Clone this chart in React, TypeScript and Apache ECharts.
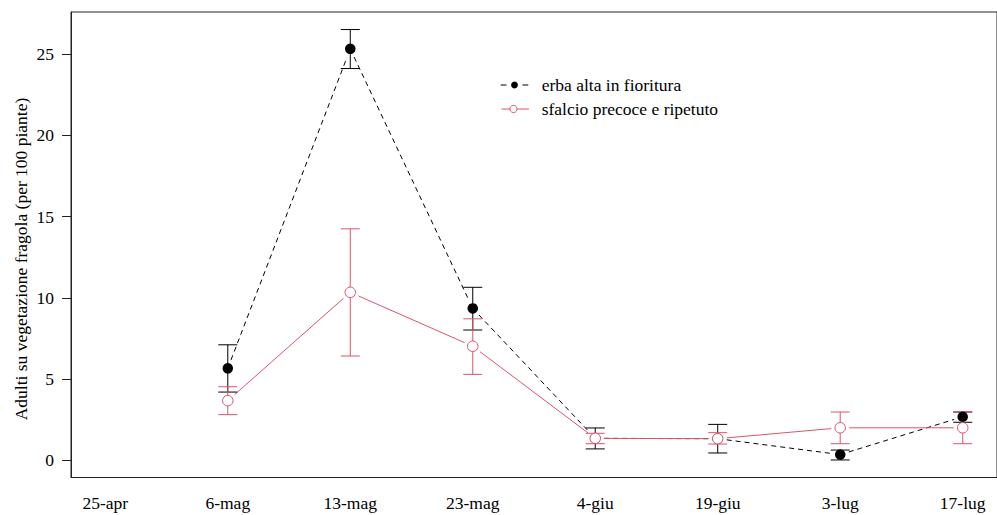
import React, { useEffect, useRef } from "react";
import * as echarts from "echarts";

const categories = ["25-apr", "6-mag", "13-mag", "23-mag", "4-giu", "19-giu", "3-lug", "17-lug"];
const categoryPositions = [1, 2, 3, 4, 5, 6, 7, 8];
const samplePositions = [2, 3, 4, 5, 6, 7, 8];
const altaMean = [5.66, 25.33, 9.35, 1.35, 1.33, 0.35, 2.68];
const altaLow = [4.2, 24.12, 8.02, 0.7, 0.45, 0.02, 2.34];
const altaHigh = [7.11, 26.52, 10.65, 1.99, 2.21, 0.63, 2.97];
const sfalcioMean = [3.67, 10.34, 7.02, 1.35, 1.33, 2.0, 2.0];
const sfalcioLow = [2.81, 6.42, 5.29, 1.02, 1.0, 1.02, 1.02];
const sfalcioHigh = [4.53, 14.25, 8.71, 1.66, 1.7, 2.97, 2.97];
const yTicks = [0, 5, 10, 15, 20, 25];
const seriesNames = ["erba alta in fioritura", "sfalcio precoce e ripetuto"];
const yTitle = "Adulti su vegetazione fragola (per 100 piante)";

const BLACK = "#000000";
const RED = "#DF536B";
const FONT = "Liberation Serif";
const FS = 17.5;

function segments(xs: number[], ys: number[]) {
  const out: number[][] = [];
  for (let i = 0; i < xs.length - 1; i++) out.push([xs[i], ys[i], xs[i + 1], ys[i + 1]]);
  return out;
}

function bars(xs: number[], lo: number[], hi: number[]) {
  return xs.map((x, i) => [x, lo[i], hi[i]]);
}

function segRender(color: string, dash: number[] | null) {
  return (params: any, api: any) => {
    const p1 = api.coord([api.value(0), api.value(1)]);
    const p2 = api.coord([api.value(2), api.value(3)]);
    const dx = p2[0] - p1[0];
    const dy = p2[1] - p1[1];
    const len = Math.hypot(dx, dy);
    const g = 9;
    if (len <= 2 * g) return null;
    const ux = dx / len;
    const uy = dy / len;
    return {
      type: "line",
      shape: { x1: p1[0] + ux * g, y1: p1[1] + uy * g, x2: p2[0] - ux * g, y2: p2[1] - uy * g },
      style: { stroke: color, lineWidth: 1, lineDash: dash || undefined, fill: null },
    };
  };
}

function barRender(color: string) {
  return (params: any, api: any) => {
    const x = api.value(0);
    const pLo = api.coord([x, api.value(1)]);
    const pHi = api.coord([x, api.value(2)]);
    const hw = 9.5;
    const st = { stroke: color, lineWidth: 1 };
    return {
      type: "group",
      children: [
        { type: "line", shape: { x1: pLo[0], y1: pLo[1], x2: pHi[0], y2: pHi[1] }, style: st },
        { type: "line", shape: { x1: pLo[0] - hw, y1: pLo[1], x2: pLo[0] + hw, y2: pLo[1] }, style: st },
        { type: "line", shape: { x1: pHi[0] - hw, y1: pHi[1], x2: pHi[0] + hw, y2: pHi[1] }, style: st },
      ],
    };
  };
}

export default function App() {
  const ref = useRef<HTMLDivElement>(null);

  useEffect(() => {
    if (!ref.current) return;
    const chart = echarts.init(ref.current, null, { renderer: "svg" });
    const legendX = 514;
    const row1 = 85;
    const row2 = 109;
    const textStyle = { fill: "#000", fontFamily: FONT, fontSize: FS };
    chart.setOption({
      animation: false,
      backgroundColor: "#ffffff",
      grid: {
        left: 71,
        right: -8.6,
        top: 12,
        bottom: 37.5,
        show: true,
        borderColor: "#222",
        borderWidth: 1,
        backgroundColor: "transparent",
      },
      xAxis: {
        type: "value",
        min: 0.72,
        max: 8.28,
        splitLine: { show: false },
        axisLine: { show: true, onZero: false, lineStyle: { color: "#222", width: 1 } },
        axisTick: { show: false },
        axisLabel: {
          customValues: categoryPositions,
          formatter: (v: number) => categories[Math.round(v) - 1] ?? "",
          color: "#000",
          fontFamily: FONT,
          fontSize: FS,
          margin: 16,
          hideOverlap: false,
        },
      },
      yAxis: {
        type: "value",
        min: -1.06,
        max: 27.6,
        splitLine: { show: false },
        axisLine: { show: true, onZero: false, lineStyle: { color: "#222", width: 1 } },
        axisTick: { show: true, length: 9, customValues: yTicks, lineStyle: { color: "#222" } },
        axisLabel: {
          customValues: yTicks,
          color: "#000",
          fontFamily: FONT,
          fontSize: FS,
          margin: 17,
        },
      },
      graphic: [
        {
          type: "text",
          x: 21,
          y: 259,
          rotation: Math.PI / 2,
          style: { ...textStyle, text: yTitle, align: "center", verticalAlign: "middle" },
        },
        { type: "line", shape: { x1: 500.7, y1: row1, x2: 506.5, y2: row1 }, style: { stroke: BLACK, lineWidth: 1 } },
        { type: "line", shape: { x1: 522.5, y1: row1, x2: 528.3, y2: row1 }, style: { stroke: BLACK, lineWidth: 1 } },
        { type: "circle", shape: { cx: legendX + 0.5, cy: row1, r: 3.4 }, style: { fill: BLACK } },
        { type: "line", shape: { x1: 501.5, y1: row2, x2: 529, y2: row2 }, style: { stroke: RED, lineWidth: 1 } },
        { type: "circle", shape: { cx: legendX - 0.5, cy: row2, r: 3.6 }, style: { fill: "#fff", stroke: RED, lineWidth: 1 } },
        {
          type: "text",
          x: 541.7,
          y: row1,
          style: { ...textStyle, text: seriesNames[0], verticalAlign: "middle" },
        },
        {
          type: "text",
          x: 541.7,
          y: row2,
          style: { ...textStyle, text: seriesNames[1], verticalAlign: "middle" },
        },
      ],
      series: [
        {
          type: "custom",
          name: seriesNames[0] + " linea",
          coordinateSystem: "cartesian2d",
          dimensions: ["x1", "y1", "x2", "y2"],
          encode: { x: [0, 2], y: [1, 3] },
          renderItem: segRender(BLACK, [5, 4]),
          data: segments(samplePositions, altaMean),
          silent: true,
          z: 2,
        },
        {
          type: "custom",
          name: seriesNames[1] + " linea",
          coordinateSystem: "cartesian2d",
          dimensions: ["x1", "y1", "x2", "y2"],
          encode: { x: [0, 2], y: [1, 3] },
          renderItem: segRender(RED, null),
          data: segments(samplePositions, sfalcioMean),
          silent: true,
          z: 2,
        },
        {
          type: "custom",
          name: seriesNames[0] + " errore",
          coordinateSystem: "cartesian2d",
          dimensions: ["x", "lo", "hi"],
          encode: { x: 0, y: [1, 2] },
          renderItem: barRender(BLACK),
          data: bars(samplePositions, altaLow, altaHigh),
          silent: true,
          z: 3,
        },
        {
          type: "custom",
          name: seriesNames[1] + " errore",
          coordinateSystem: "cartesian2d",
          dimensions: ["x", "lo", "hi"],
          encode: { x: 0, y: [1, 2] },
          renderItem: barRender(RED),
          data: bars(samplePositions, sfalcioLow, sfalcioHigh),
          silent: true,
          z: 3,
        },
        {
          type: "scatter",
          name: seriesNames[0],
          symbol: "circle",
          symbolSize: 10.5,
          itemStyle: { color: BLACK, opacity: 1 },
          data: samplePositions.map((x, i) => [x, altaMean[i]]),
          silent: true,
          z: 4,
        },
        {
          type: "scatter",
          name: seriesNames[1],
          symbol: "circle",
          symbolSize: 10.5,
          itemStyle: { color: "#ffffff", borderColor: RED, borderWidth: 1, opacity: 1 },
          data: samplePositions.map((x, i) => [x, sfalcioMean[i]]),
          silent: true,
          z: 5,
        },
      ],
    });
    return () => chart.dispose();
  }, []);

  return (
    <div
      ref={ref}
      style={{ position: "absolute", left: 0, top: 0, width: 997, height: 515, background: "#fff" }}
    />
  );
}
